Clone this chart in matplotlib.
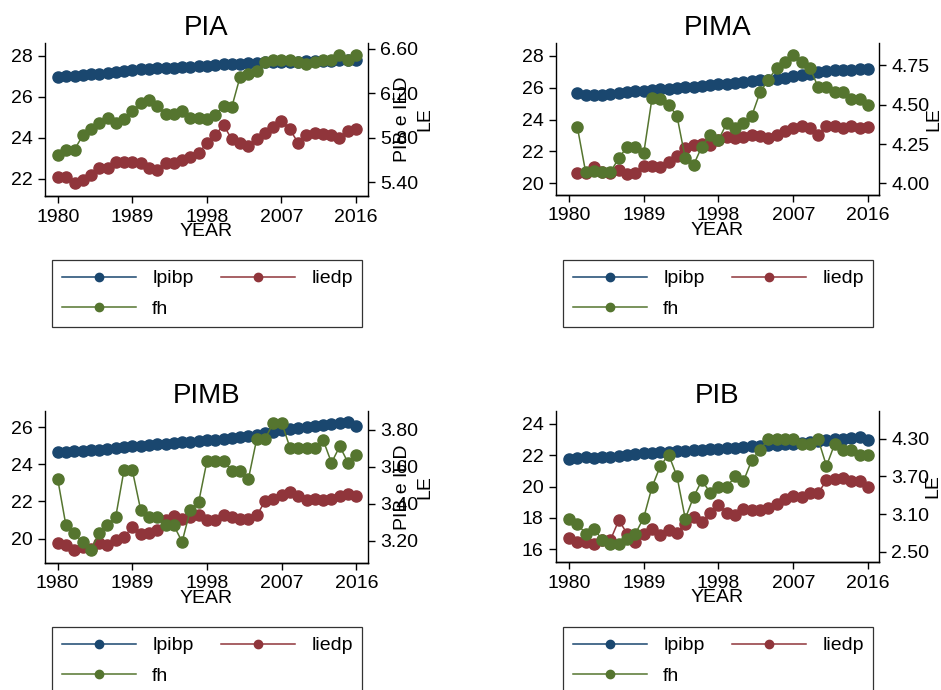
# -*- coding: utf-8 -*-
"""Four panel dual-axis chart: lpibp, liedp and fh by income group."""

import matplotlib
matplotlib.use('Agg')
import matplotlib.pyplot as plt
from matplotlib.ticker import FormatStrFormatter

plt.rcParams['font.family'] = ['Liberation Sans', 'DejaVu Sans']

# ---- data -------------------------------------------------------------
years = list(range(1980, 2017))
years_pima = list(range(1981, 2017))
year_ticks = [1980, 1989, 1998, 2007, 2016]

pia_lpibp = [26.99, 27.01, 27.02, 27.07, 27.10, 27.14, 27.19, 27.23, 27.28,
             27.32, 27.35, 27.38, 27.40, 27.41, 27.43, 27.45, 27.47, 27.50,
             27.53, 27.56, 27.59, 27.61, 27.62, 27.64, 27.67, 27.69, 27.71,
             27.72, 27.72, 27.71, 27.76, 27.76, 27.77, 27.77, 27.78, 27.79,
             27.80]
pia_liedp = [22.11, 22.11, 21.79, 21.95, 22.20, 22.52, 22.52, 22.81, 22.85,
             22.81, 22.76, 22.52, 22.44, 22.80, 22.76, 22.93, 23.06, 23.28,
             23.74, 24.15, 24.63, 23.93, 23.77, 23.60, 23.93, 24.26, 24.55,
             24.85, 24.42, 23.77, 24.15, 24.26, 24.18, 24.15, 23.98, 24.34,
             24.42]
pia_fh = [5.641, 5.693, 5.693, 5.822, 5.882, 5.928, 5.982, 5.928, 5.964,
          6.039, 6.109, 6.139, 6.084, 6.012, 6.012, 6.039, 5.982, 5.982,
          5.964, 6.009, 6.084, 6.078, 6.350, 6.374, 6.404, 6.479, 6.500,
          6.500, 6.500, 6.485, 6.464, 6.485, 6.500, 6.500, 6.546, 6.500,
          6.546]

pima_lpibp = [25.65, 25.51, 25.55, 25.56, 25.59, 25.66, 25.71, 25.76, 25.80,
              25.86, 25.89, 25.93, 25.97, 26.02, 26.07, 26.12, 26.16, 26.20,
              26.24, 26.29, 26.34, 26.39, 26.45, 26.50, 26.55, 26.60, 26.70,
              26.80, 26.88, 26.97, 27.03, 27.08, 27.10, 27.12, 27.14, 27.16]
pima_liedp = [20.63, 20.63, 21.05, 20.73, 20.67, 20.84, 20.59, 20.63, 21.11,
              21.11, 21.05, 21.36, 21.72, 22.20, 22.41, 22.47, 22.41, 22.72,
              22.89, 22.87, 22.89, 23.04, 22.97, 22.83, 23.04, 23.29, 23.46,
              23.60, 23.46, 23.04, 23.60, 23.60, 23.46, 23.60, 23.46, 23.52]
pima_fh = [4.361, 4.074, 4.081, 4.074, 4.074, 4.159, 4.234, 4.234, 4.191,
           4.542, 4.535, 4.499, 4.429, 4.159, 4.117, 4.234, 4.308, 4.276,
           4.383, 4.351, 4.383, 4.429, 4.578, 4.659, 4.733, 4.771, 4.814,
           4.769, 4.733, 4.612, 4.612, 4.578, 4.578, 4.535, 4.535, 4.499]

pimb_lpibp = [24.66, 24.67, 24.69, 24.71, 24.74, 24.77, 24.80, 24.85, 24.91,
              24.96, 25.00, 25.03, 25.07, 25.11, 25.15, 25.19, 25.22, 25.25,
              25.28, 25.32, 25.37, 25.41, 25.47, 25.53, 25.59, 25.67, 25.74,
              25.82, 25.88, 25.94, 26.00, 26.05, 26.10, 26.14, 26.20, 26.27,
              26.04]
pimb_liedp = [19.77, 19.64, 19.37, 19.55, 19.46, 19.77, 19.68, 19.91, 20.09,
              20.63, 20.27, 20.30, 20.45, 20.98, 21.20, 21.07, 21.16, 21.25,
              20.98, 21.02, 21.25, 21.16, 21.07, 21.07, 21.25, 22.02, 22.15,
              22.33, 22.51, 22.27, 22.06, 22.15, 22.06, 22.15, 22.27, 22.38,
              22.27]
pimb_fh = [3.536, 3.284, 3.240, 3.195, 3.153, 3.240, 3.284, 3.329, 3.581,
           3.581, 3.369, 3.329, 3.329, 3.284, 3.284, 3.195, 3.369, 3.410,
           3.631, 3.631, 3.631, 3.577, 3.577, 3.536, 3.751, 3.751, 3.836,
           3.836, 3.703, 3.703, 3.703, 3.703, 3.743, 3.621, 3.710, 3.621,
           3.662]

pib_lpibp = [21.77, 21.84, 21.86, 21.84, 21.85, 21.88, 21.92, 21.98, 22.05,
             22.13, 22.15, 22.18, 22.20, 22.23, 22.27, 22.30, 22.34, 22.38,
             22.41, 22.44, 22.48, 22.51, 22.55, 22.58, 22.62, 22.65, 22.69,
             22.73, 22.78, 22.83, 22.88, 22.94, 23.00, 23.05, 23.10, 23.15,
             22.94]
pib_liedp = [16.72, 16.47, 16.47, 16.32, 16.57, 16.60, 17.85, 17.00, 16.47,
             17.00, 17.32, 16.93, 17.25, 17.06, 17.63, 18.06, 17.74, 18.31,
             18.84, 18.31, 18.21, 18.59, 18.48, 18.48, 18.65, 18.91, 19.23,
             19.37, 19.33, 19.59, 19.59, 20.39, 20.50, 20.56, 20.35, 20.33,
             19.97]
pib_fh = [3.029, 2.950, 2.791, 2.871, 2.696, 2.622, 2.622, 2.712, 2.791,
          3.045, 3.532, 3.866, 4.046, 3.702, 3.029, 3.374, 3.638, 3.442,
          3.532, 3.532, 3.702, 3.622, 3.956, 4.125, 4.289, 4.289, 4.289,
          4.289, 4.210, 4.210, 4.289, 3.866, 4.220, 4.125, 4.125, 4.035,
          4.035]

C_BLUE = '#1a476f'
C_RED = '#90353b'
C_GREEN = '#55752f'

W, H = 941., 690.
FS = 14
fig = plt.figure(figsize=(9.41, 6.90), dpi=100)


def px_rect(x0, y0, x1, y1):
    # pixel box (top-left origin) -> figure fraction rect
    return [x0 / W, 1 - y1 / H, (x1 - x0) / W, (y1 - y0) / H]


def draw_panel(rect, title, x, lp, li, fh, xlim, ylim, yticks, ylim2, yticks2,
               right_labels, leg_xy):
    ax = fig.add_axes(rect)
    ax.plot(x, lp, '-o', color=C_BLUE, ms=8, lw=1.1, label='lpibp')
    ax.plot(x, li, '-o', color=C_RED, ms=8, lw=1.1, label='liedp')
    ax2 = ax.twinx()
    ax2.plot(x, fh, '-o', color=C_GREEN, ms=8, lw=1.1, label='fh')

    ax.set_xlim(xlim)
    ax.set_ylim(ylim)
    ax.set_yticks(yticks)
    ax2.set_ylim(ylim2)
    ax2.set_yticks(yticks2)
    ax2.yaxis.set_major_formatter(FormatStrFormatter('%.2f'))
    ax.set_xticks(year_ticks)

    for a in (ax, ax2):
        a.spines['top'].set_visible(False)
        for s in a.spines.values():
            s.set_linewidth(1.0)
        a.tick_params(labelsize=FS, length=5, width=1.0)
    ax.spines['right'].set_visible(False)
    ax2.spines['left'].set_visible(False)
    ax.tick_params(axis='y', pad=4)
    ax.tick_params(axis='x', pad=4)
    ax2.tick_params(axis='y', pad=4)

    ax.set_title(title, fontsize=20, pad=6)
    ax.set_xlabel('YEAR', fontsize=FS, labelpad=-2)

    for txt, xpos in right_labels:
        ax.text(xpos, 0.5, txt, transform=ax.transAxes, rotation=90,
                ha='center', va='center', fontsize=FS)

    h1, l1 = ax.get_legend_handles_labels()
    h2, l2 = ax2.get_legend_handles_labels()
    handles = [h1[0], h2[0], h1[1]]
    labels = [l1[0], l2[0], l1[1]]
    leg = fig.legend(handles, labels, ncol=2, loc='upper left',
                     bbox_to_anchor=(leg_xy[0] / W, 1 - leg_xy[1] / H),
                     bbox_transform=fig.transFigure, borderaxespad=0,
                     fontsize=FS, frameon=True, fancybox=False,
                     edgecolor='black', handlelength=3.8,
                     handletextpad=0.85, columnspacing=1.4,
                     labelspacing=0.65, borderpad=0.5, markerscale=0.75)
    leg.get_frame().set_linewidth(0.9)
    return ax, ax2


draw_panel(px_rect(45, 43, 368, 196), 'PIA', years,
           pia_lpibp, pia_liedp, pia_fh,
           (1978.43, 2017.45), (21.17, 28.63), [22, 24, 26, 28],
           (5.274, 6.654), [5.40, 5.80, 6.20, 6.60],
           [('PIB e IED', 1.108), ('LE', 1.176)], (52, 260))

draw_panel(px_rect(556, 43, 879, 195), 'PIMA', years_pima,
           pima_lpibp, pima_liedp, pima_fh,
           (1978.44, 2017.32), (19.27, 28.8), [20, 22, 24, 26, 28],
           (3.926, 4.892), [4.00, 4.25, 4.50, 4.75],
           [('LE', 1.170)], (563, 260))

draw_panel(px_rect(45, 411, 368, 563), 'PIMB', years,
           pimb_lpibp, pimb_liedp, pimb_fh,
           (1978.48, 2017.40), (18.69, 26.86), [20, 22, 24, 26],
           (3.081, 3.90), [3.20, 3.40, 3.60, 3.80],
           [('PIB e IED', 1.108), ('LE', 1.176)], (52, 627))

draw_panel(px_rect(556, 411, 879, 562), 'PIB', years,
           pib_lpibp, pib_liedp, pib_fh,
           (1978.44, 2017.32), (15.19, 24.81), [16, 18, 20, 22, 24],
           (2.341, 4.739), [2.50, 3.10, 3.70, 4.30],
           [('LE', 1.167)], (563, 627))

plt.savefig('out.png', dpi=100)
